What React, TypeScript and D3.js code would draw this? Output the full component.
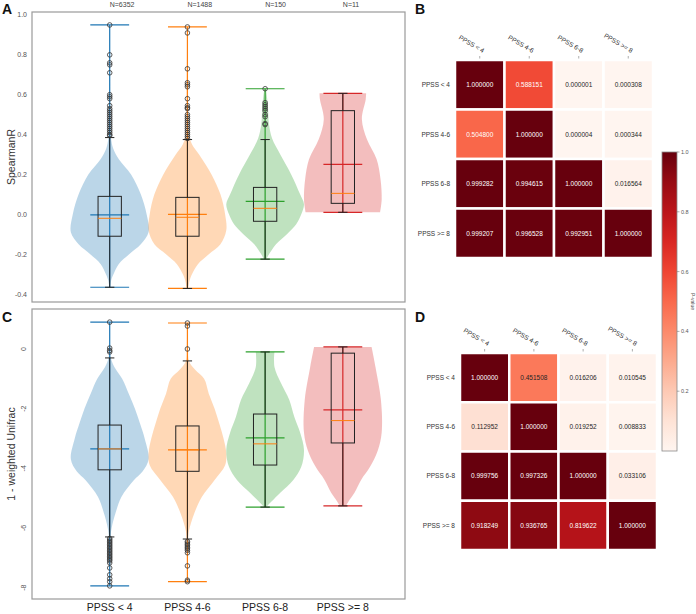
import * as d3 from 'd3';

const GROUPS = ['PPSS < 4', 'PPSS 4-6', 'PPSS 6-8', 'PPSS >= 8'];
const COUNTS = ['N=6352', 'N=1488', 'N=150', 'N=11'];
const COLORS = ['#1f77b4', '#ff7f0e', '#2ca02c', '#d62728'];
const MEDIAN_COLOR = '#ff7f0e';
const FONT = '"Liberation Sans", Arial, sans-serif';

// violin outlines: [value, relative density]
const SPEARMAN_SHAPES: [number, number][][] = [
  [[-0.366, 0.01], [-0.33, 0.04], [-0.3, 0.1], [-0.25, 0.23], [-0.2, 0.5], [-0.15, 0.8], [-0.09, 1.0], [0.0, 0.95], [0.1, 0.8], [0.2, 0.55], [0.275, 0.24], [0.33, 0.09], [0.38, 0.035], [0.45, 0.02], [0.6, 0.012], [0.95, 0.006]],
  [[-0.372, 0.02], [-0.33, 0.06], [-0.3, 0.12], [-0.25, 0.27], [-0.2, 0.55], [-0.15, 0.85], [-0.08, 1.0], [0.0, 0.97], [0.1, 0.85], [0.2, 0.62], [0.3, 0.3], [0.35, 0.12], [0.4, 0.04], [0.5, 0.02], [0.94, 0.006]],
  [[-0.225, 0.03], [-0.2, 0.1], [-0.15, 0.28], [-0.1, 0.56], [-0.05, 0.8], [0.0, 0.93], [0.05, 1.0], [0.1, 0.9], [0.2, 0.67], [0.3, 0.39], [0.38, 0.18], [0.45, 0.1], [0.55, 0.07], [0.63, 0.02]],
  [[0.01, 0.96], [0.075, 1.0], [0.176, 0.97], [0.276, 0.87], [0.376, 0.62], [0.477, 0.49], [0.577, 0.59], [0.607, 0.6]],
];
const SPEARMAN_STATS = [
  { q1: -0.11, med: -0.02, q3: 0.09, lo: -0.366, hi: 0.385, mean: -0.003, min: -0.366, max: 0.95 },
  { q1: -0.11, med: -0.015, q3: 0.085, lo: -0.372, hi: 0.375, mean: 0.0, min: -0.372, max: 0.94 },
  { q1: -0.035, med: 0.03, q3: 0.135, lo: -0.225, hi: 0.375, mean: 0.065, min: -0.225, max: 0.63 },
  { q1: 0.055, med: 0.105, q3: 0.52, lo: 0.01, hi: 0.607, mean: 0.25, min: 0.01, max: 0.607 },
];
const SPEARMAN_FLIERS = [
  [0.395, 0.4, 0.41, 0.42, 0.43, 0.44, 0.45, 0.46, 0.47, 0.48, 0.49, 0.5, 0.51, 0.52, 0.53, 0.545, 0.58, 0.59, 0.6, 0.71, 0.75, 0.76, 0.8, 0.95],
  [0.38, 0.39, 0.4, 0.41, 0.42, 0.43, 0.44, 0.45, 0.46, 0.47, 0.48, 0.49, 0.5, 0.53, 0.535, 0.545, 0.58, 0.64, 0.65, 0.66, 0.73, 0.91, 0.94],
  [0.45, 0.455, 0.49, 0.5, 0.52, 0.53, 0.54, 0.55, 0.56, 0.63],
  [],
];
const SPEARMAN_TICKS = [1.0, 0.8, 0.6, 0.4, 0.2, 0.0, -0.2, -0.4];

const UNIFRAC_SHAPES: [number, number][][] = [
  [[-7.94, 0.006], [-6.8, 0.01], [-6.3, 0.02], [-6.0, 0.05], [-5.5, 0.15], [-4.96, 0.3], [-4.4, 0.62], [-4.1, 0.85], [-3.7, 1.0], [-3.0, 0.9], [-2.5, 0.78], [-2.0, 0.65], [-1.5, 0.49], [-1.0, 0.32], [-0.6, 0.12], [-0.3, 0.03], [0.0, 0.012], [0.9, 0.006]],
  [[-7.8, 0.006], [-6.4, 0.02], [-6.1, 0.04], [-5.5, 0.18], [-4.96, 0.37], [-4.39, 0.7], [-3.9, 0.97], [-3.5, 1.0], [-3.0, 0.93], [-2.5, 0.82], [-2.0, 0.7], [-1.5, 0.55], [-1.0, 0.43], [-0.7, 0.2], [-0.4, 0.04], [0.0, 0.015], [0.87, 0.006]],
  [[-5.3, 0.03], [-5.2, 0.1], [-4.82, 0.39], [-4.4, 0.72], [-3.95, 0.93], [-3.38, 1.0], [-2.8, 0.9], [-2.27, 0.75], [-1.7, 0.62], [-1.15, 0.41], [-0.6, 0.24], [-0.1, 0.24]],
  [[-5.26, 0.08], [-5.1, 0.15], [-4.82, 0.3], [-4.39, 0.47], [-3.95, 0.7], [-3.4, 0.9], [-2.8, 1.0], [-1.7, 0.98], [-0.6, 0.84], [0.07, 0.74]],
];
const UNIFRAC_STATS = [
  { q1: -4.05, med: -3.35, q3: -2.55, lo: -6.3, hi: -0.3, mean: -3.35, min: -7.94, max: 0.9 },
  { q1: -4.1, med: -3.38, q3: -2.58, lo: -6.37, hi: -0.4, mean: -3.38, min: -7.8, max: 0.87 },
  { q1: -3.89, med: -3.18, q3: -2.18, lo: -5.3, hi: -0.1, mean: -2.98, min: -5.3, max: -0.1 },
  { q1: -3.15, med: -2.4, q3: -0.14, lo: -5.26, hi: 0.07, mean: -2.04, min: -5.26, max: 0.07 },
];
const UNIFRAC_FLIERS = [
  [0.9, 0.03, -0.05, -0.1, -6.35, -6.4, -6.45, -6.5, -6.55, -6.6, -6.65, -6.7, -6.75, -6.8, -6.85, -6.9, -6.95, -7.0, -7.05, -7.1, -7.17, -7.34, -7.57, -7.7, -7.8, -7.94],
  [0.87, 0.77, 0.0, -6.45, -6.5, -6.55, -6.6, -6.65, -6.7, -6.75, -6.83, -7.27, -7.75, -7.8],
  [],
  [],
];
const UNIFRAC_TICKS = [0, -2, -4, -6, -8];

const P_B = [
  [1.0, 0.588151, 0.000001, 0.000308],
  [0.5048, 1.0, 0.000004, 0.000344],
  [0.999282, 0.994615, 1.0, 0.016564],
  [0.999207, 0.996528, 0.992951, 1.0],
];
const P_D = [
  [1.0, 0.451508, 0.016206, 0.010545],
  [0.112952, 1.0, 0.019252, 0.008833],
  [0.999756, 0.997326, 1.0, 0.033106],
  [0.918249, 0.936765, 0.819622, 1.0],
];
const CBAR_TICKS = [1.0, 0.8, 0.6, 0.4, 0.2];

type Stat = { q1: number; med: number; q3: number; lo: number; hi: number; mean: number; min: number; max: number };

const x = d3.scaleLinear().domain([0, 4.8]).range([32, 405]);
const color = d3.scaleSequential(d3.interpolateReds).domain([0, 1]);

function ViolinPanel(props: {
  top: number; bottom: number; domain: [number, number]; ticks: number[]; fmt: (v: number) => string;
  rotateTicks: boolean; ylabel: string; shapes: [number, number][][]; stats: Stat[]; fliers: number[][];
  showN: boolean; showX: boolean;
}) {
  const { top, bottom, domain, ticks, fmt, rotateTicks, ylabel, shapes, stats, fliers, showN, showX } = props;
  const y = d3.scaleLinear().domain(domain).range([bottom, top]);
  const hw = x(0.5) - x(0);
  const lines = x(0.25) - x(0);
  const box = x(0.15) - x(0);
  const cap = x(0.06) - x(0);
  return (
    <g>
      <rect x={x(0)} y={top} width={x(4.8) - x(0)} height={bottom - top} fill="none" stroke="#9a9a9a" strokeWidth={1.2} />
      {ticks.map((t) =>
        rotateTicks ? (
          <text key={t} transform={`translate(26,${y(t)}) rotate(-90)`} textAnchor="middle" fontSize={7} fill="#555">{fmt(t)}</text>
        ) : (
          <text key={t} x={27} y={y(t) + 2.5} textAnchor="end" fontSize={7} fill="#555">{fmt(t)}</text>
        )
      )}
      <text transform={`translate(15,${(top + bottom) / 2}) rotate(-90)`} textAnchor="middle" fontSize={10.5} fill="#333">{ylabel}</text>
      {shapes.map((shape, i) => {
        const cx = x(i + 1);
        const area = d3.area<[number, number]>()
          .y((d) => y(d[0]))
          .x0((d) => cx - hw * d[1])
          .x1((d) => cx + hw * d[1])
          .curve(d3.curveCatmullRom.alpha(0.5));
        return <path key={i} d={area(shape) || ''} fill={COLORS[i]} fillOpacity={0.3} />;
      })}
      {stats.map((s, i) => {
        const cx = x(i + 1);
        const c = COLORS[i];
        return (
          <g key={i} strokeWidth={1.2} stroke={c}>
            <line x1={cx} x2={cx} y1={y(s.min)} y2={y(s.max)} />
            <line x1={cx - lines} x2={cx + lines} y1={y(s.min)} y2={y(s.min)} />
            <line x1={cx - lines} x2={cx + lines} y1={y(s.max)} y2={y(s.max)} />
            <line x1={cx - lines} x2={cx + lines} y1={y(s.mean)} y2={y(s.mean)} />
          </g>
        );
      })}
      {stats.map((s, i) => {
        const cx = x(i + 1);
        return (
          <g key={i} stroke="#222" strokeWidth={1} fill="none">
            <line x1={cx} x2={cx} y1={y(s.q3)} y2={y(s.hi)} />
            <line x1={cx} x2={cx} y1={y(s.q1)} y2={y(s.lo)} />
            <line x1={cx - cap} x2={cx + cap} y1={y(s.hi)} y2={y(s.hi)} />
            <line x1={cx - cap} x2={cx + cap} y1={y(s.lo)} y2={y(s.lo)} />
            <rect x={cx - box} y={y(s.q3)} width={2 * box} height={y(s.q1) - y(s.q3)} />
            <line x1={cx - box} x2={cx + box} y1={y(s.med)} y2={y(s.med)} stroke={MEDIAN_COLOR} />
            {fliers[i].map((f, j) => (
              <circle key={j} cx={cx} cy={y(f)} r={2.3} stroke="#333" strokeWidth={0.8} />
            ))}
          </g>
        );
      })}
      {showN && COUNTS.map((n, i) => (
        <text key={n} x={x(i + 1)} y={7} fontSize={7} fill="#444">{n}</text>
      ))}
      {showX && GROUPS.map((g, i) => (
        <text key={g} x={x(i + 1)} y={611} textAnchor="middle" fontSize={10.5} fill="#222">{g}</text>
      ))}
    </g>
  );
}

function luminance(c: string) {
  const rgb = d3.rgb(c);
  const lin = (v: number) => {
    const s = v / 255;
    return s <= 0.03928 ? s / 12.92 : Math.pow((s + 0.055) / 1.055, 2.4);
  };
  return 0.2126 * lin(rgb.r) + 0.7152 * lin(rgb.g) + 0.0722 * lin(rgb.b);
}

function Heatmap(props: { left: number; top: number; size: number; values: number[][] }) {
  const { left, top, size, values } = props;
  const bx = d3.scaleBand().domain(GROUPS).range([left, left + size]);
  const by = d3.scaleBand().domain(GROUPS).range([top, top + size]);
  return (
    <g fontFamily={FONT}>
      {values.map((row, r) =>
        row.map((v, c) => {
          const fill = color(v);
          const tx = bx(GROUPS[c])! + bx.bandwidth() / 2;
          const ty = by(GROUPS[r])! + by.bandwidth() / 2;
          return (
            <g key={`${r}-${c}`}>
              <rect x={bx(GROUPS[c])} y={by(GROUPS[r])} width={bx.bandwidth()} height={by.bandwidth()} fill={fill} stroke="#fff" strokeWidth={2.5} />
              <text x={tx} y={ty + 2.3} textAnchor="middle" fontSize={6.5} fill={luminance(fill) > 0.34 ? '#262626' : '#fff'}>{v.toFixed(6)}</text>
            </g>
          );
        })
      )}
      {GROUPS.map((g) => {
        const cx = bx(g)! + bx.bandwidth() / 2;
        return (
          <g key={g}>
            <line x1={cx} x2={cx} y1={top - 4} y2={top - 1.5} stroke="#777" strokeWidth={0.6} />
            <text transform={`translate(${cx + 3},${top - 7}) rotate(30)`} textAnchor="end" fontSize={6.5} fill="#333">{g}</text>
          </g>
        );
      })}
      {GROUPS.map((g) => (
        <text key={g} x={left - 5} y={by(g)! + by.bandwidth() / 2 + 2.3} textAnchor="end" fontSize={6.5} fill="#333">{g}</text>
      ))}
    </g>
  );
}

function Colorbar() {
  const cy = d3.scaleLinear().domain([0, 1]).range([451, 152]);
  const stops = d3.range(0, 1.0001, 0.1);
  return (
    <g fontFamily={FONT}>
      <defs>
        <linearGradient id="cbar" x1="0" y1="1" x2="0" y2="0">
          {stops.map((s) => <stop key={s} offset={s} stopColor={color(s)} />)}
        </linearGradient>
      </defs>
      <rect x={662} y={cy(1)} width={15} height={cy(0) - cy(1)} fill="url(#cbar)" stroke="#8a8a8a" strokeWidth={0.8} />
      {CBAR_TICKS.map((t) => (
        <g key={t}>
          <line x1={677} x2={679.5} y1={cy(t)} y2={cy(t)} stroke="#777" strokeWidth={0.6} />
          <text x={681} y={cy(t) + 2} fontSize={5.5} fill="#555">{t.toFixed(1)}</text>
        </g>
      ))}
      <text transform={`translate(691,${cy(0.5)}) rotate(90)`} textAnchor="middle" fontSize={5} fill="#555">P-value</text>
    </g>
  );
}

export default function App() {
  return (
    <div style={{ position: 'absolute', left: 0, top: 0 }}>
      <svg width={696} height={614} style={{ display: 'block', background: '#fff' }} fontFamily={FONT}>
        <ViolinPanel top={12} bottom={302} domain={[-0.44, 1.015]} ticks={SPEARMAN_TICKS} fmt={(v) => v.toFixed(1)}
          rotateTicks={false} ylabel="SpearmanR" shapes={SPEARMAN_SHAPES} stats={SPEARMAN_STATS} fliers={SPEARMAN_FLIERS} showN showX={false} />
        <ViolinPanel top={309} bottom={599} domain={[-8.38, 1.34]} ticks={UNIFRAC_TICKS} fmt={(v) => String(v)}
          rotateTicks ylabel="1 - weighted Unifrac" shapes={UNIFRAC_SHAPES} stats={UNIFRAC_STATS} fliers={UNIFRAC_FLIERS} showN={false} showX />
        <Heatmap left={455} top={60} size={198} values={P_B} />
        <Heatmap left={460} top={353} size={197} values={P_D} />
        <Colorbar />
        <text x={2} y={14} fontSize={14} fontWeight="bold" fill="#111">A</text>
        <text x={2} y={322} fontSize={14} fontWeight="bold" fill="#111">C</text>
        <text x={415} y={14} fontSize={14} fontWeight="bold" fill="#111">B</text>
        <text x={415} y={322} fontSize={14} fontWeight="bold" fill="#111">D</text>
      </svg>
    </div>
  );
}
